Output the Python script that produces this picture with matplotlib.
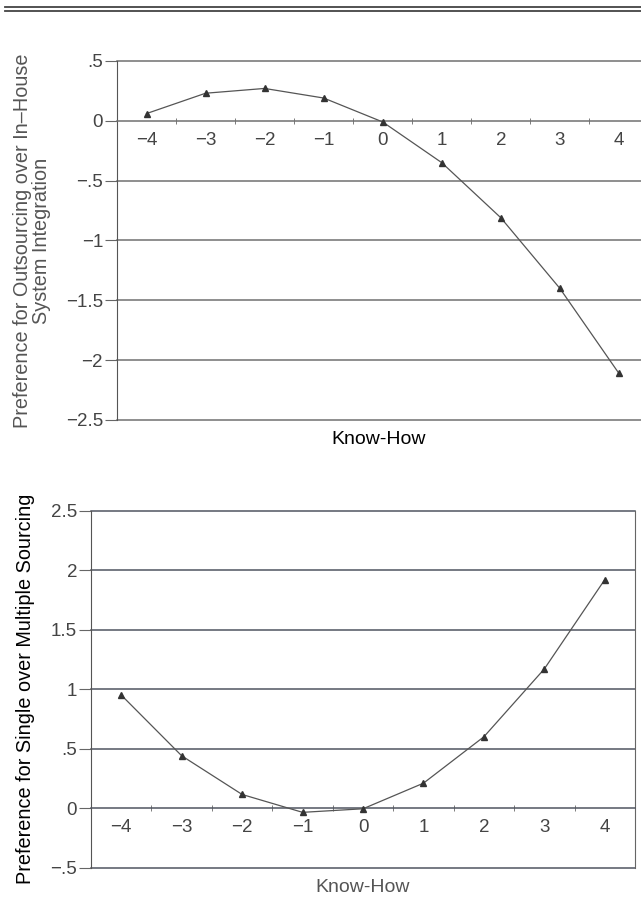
import numpy as np
import matplotlib
matplotlib.use("Agg")
import matplotlib.pyplot as plt
from matplotlib.lines import Line2D

plt.rcParams['font.family'] = ['Liberation Sans', 'DejaVu Sans']

know_how = [-4, -3, -2, -1, 0, 1, 2, 3, 4]
outsourcing = [0.06, 0.23, 0.27, 0.19, -0.01, -0.35, -0.81, -1.40, -2.11]
single_sourcing = [0.95, 0.44, 0.115, -0.035, -0.005, 0.21, 0.60, 1.17, 1.92]

top_yticks = [0.5, 0, -0.5, -1, -1.5, -2, -2.5]
top_ylabels = ['.5', '0', '\u2212.5', '\u22121', '\u22121.5', '\u22122', '\u22122.5']
bot_yticks = [2.5, 2, 1.5, 1, 0.5, 0, -0.5]
bot_ylabels = ['2.5', '2', '1.5', '1', '.5', '0', '\u2212.5']
xlabels = ['\u22124', '\u22123', '\u22122', '\u22121', '0', '1', '2', '3', '4']

fig = plt.figure(figsize=(6.41, 9.23), dpi=100)

# double rule at the top of the page
for yy in (0.9925, 0.988):
    fig.add_artist(Line2D([0.008, 1.0], [yy, yy], color='#444444', lw=1.3))


def style_axes(ax, yticks, ylabels, tick_color, grid_color, right_spine):
    ax.set_xlim(-4.5, 4.5)
    ax.set_ylim(min(yticks), max(yticks))
    for v in yticks:
        if v != 0:
            ax.axhline(v, color=grid_color, lw=1.1, clip_on=False, zorder=1)
    ax.spines['top'].set_visible(False)
    ax.spines['right'].set_visible(right_spine)
    ax.spines['right'].set_color('#666666')
    ax.spines['left'].set_color('#555555')
    ax.spines['bottom'].set_position(('data', 0))
    ax.spines['bottom'].set_color(grid_color)
    ax.spines['bottom'].set_linewidth(1.1)
    ax.set_yticks(yticks)
    ax.set_yticklabels(ylabels)
    ax.set_xticks(know_how)
    ax.set_xticklabels(xlabels)
    ax.set_xticks(np.arange(-4.5, 4.6, 1.0), minor=True)
    ax.tick_params(axis='x', which='major', length=0, pad=8,
                   labelsize=13.5, labelcolor=tick_color)
    ax.tick_params(axis='x', which='minor', length=4, direction='inout',
                   color='#666666')
    ax.tick_params(axis='y', length=9, direction='out', color='#666666',
                   labelsize=13.5, labelcolor=tick_color, pad=1)


# top chart
ax1 = fig.add_axes([0.1825, 0.545, 0.829, 0.389])
style_axes(ax1, top_yticks, top_ylabels, '#444444', '#707070', False)
ax1.plot(know_how, outsourcing, color='#555555', lw=0.9, marker='^',
         markersize=4.5, markerfacecolor='#333333', markeredgecolor='#333333',
         zorder=3)
ax1.yaxis.set_label_coords(-0.16, 0.525)
ax1.set_ylabel('Preference for Outsourcing over In\u2013House\nSystem Integration',
               fontsize=14.3, color='#555555', linespacing=1.05,
               va='center')
fig.text(379 / 641, 1 - 440 / 923, 'Know-How', fontsize=14, color='black',
         ha='center', va='center')

# bottom chart
ax2 = fig.add_axes([0.142, 0.0599, 0.8487, 0.387])
style_axes(ax2, bot_yticks, bot_ylabels, '#444444', '#505560', True)
ax2.plot(know_how, single_sourcing, color='#555555', lw=0.9, marker='^',
         markersize=4.5, markerfacecolor='#333333', markeredgecolor='#333333',
         zorder=3)
ax2.yaxis.set_label_coords(-0.121, 0.512)
ax2.set_ylabel('Preference for Single over Multiple Sourcing',
               fontsize=14.3, color='black', va='center')
fig.text(363 / 641, 1 - 887 / 923, 'Know-How', fontsize=14, color='#555555',
         ha='center', va='center')

fig.savefig('out.png', dpi=100)
